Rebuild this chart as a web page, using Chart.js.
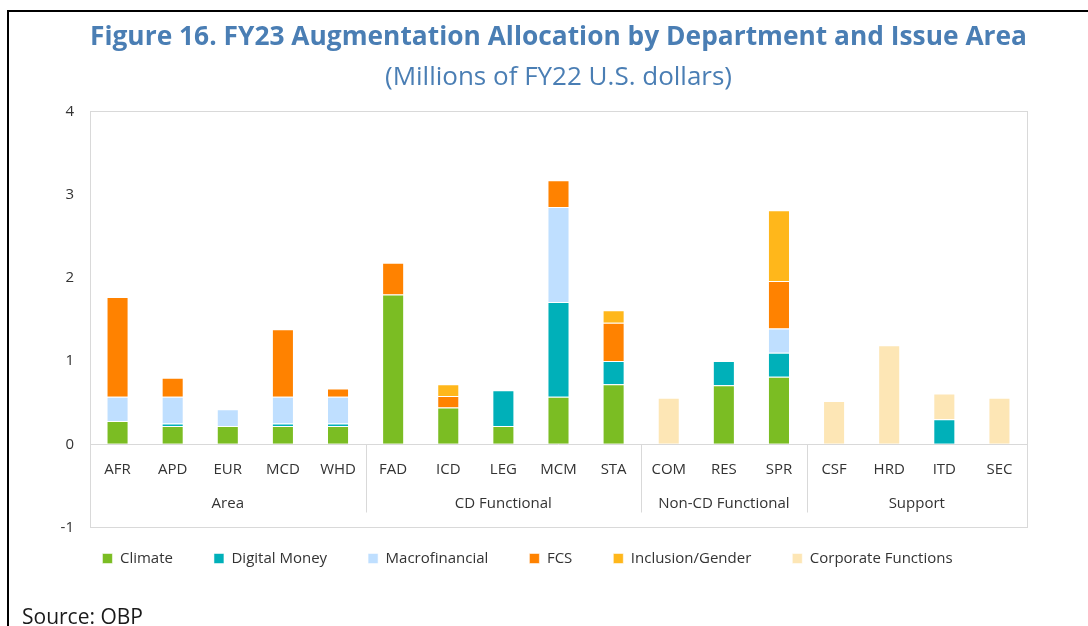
<!DOCTYPE html>
<html>
<head>
<meta charset="utf-8">
<script src="https://cdn.jsdelivr.net/npm/chart.js@4"></script>
<style>
  html, body { margin: 0; padding: 0; background: #fff; }
  #wrap { position: relative; width: 1088px; height: 626px; overflow: hidden; }
  #frame { position: absolute; left: 7px; top: 10px; width: 1100px; height: 700px; border: 2px solid #000; }
  #box { position: absolute; left: 0; top: 0; width: 1088px; height: 626px; }
  #source { position: absolute; left: 22px; top: 602px; font: 21px "Open Sans", sans-serif; color: #1a1a1a; }
</style>
</head>
<body>
<div id="wrap">
  <div id="frame"></div>
  <div id="box"><canvas id="grafico"></canvas></div>
  <div id="source">Source: OBP</div>
</div>
<script>
// departamentos y grupos
const categorias = ['AFR', 'APD', 'EUR', 'MCD', 'WHD', 'FAD', 'ICD', 'LEG', 'MCM', 'STA', 'COM', 'RES', 'SPR', 'CSF', 'HRD', 'ITD', 'SEC'];
const grupos = ['Area', 'CD Functional', 'Non-CD Functional', 'Support'];
const tamGrupos = [5, 5, 3, 4];

// valores (millones de USD FY22), null = sin barra
const climate       = [0.28, 0.22, 0.22, 0.22, 0.22, 1.80, 0.44, 0.22, 0.57, 0.72, null, 0.71, 0.81, null, null, null, null];
const digitalMoney  = [null, 0.03, null, 0.03, 0.03, null, null, 0.43, 1.14, 0.28, null, 0.29, 0.29, null, null, 0.30, null];
const macrofinancial= [0.29, 0.32, 0.20, 0.32, 0.32, null, null, null, 1.14, null, null, null, 0.29, null, null, null, null];
const fcs           = [1.20, 0.23, null, 0.81, 0.10, 0.38, 0.14, null, 0.32, 0.46, null, null, 0.57, null, null, null, null];
const inclusion     = [null, null, null, null, null, null, 0.14, null, null, 0.15, null, null, 0.85, null, null, null, null];
const corporate     = [null, null, null, null, null, null, null, null, null, null, 0.56, null, null, 0.52, 1.19, 0.31, 0.56];

const yTicks = [-1, 0, 1, 2, 3, 4];

// centros y limites de cada grupo (en indices de categoria)
const centrosGrupo = [];
const limitesGrupo = [];
let inicio = 0;
tamGrupos.forEach(function(n, i) {
  centrosGrupo.push(inicio + (n - 1) / 2);
  inicio += n;
  if (i < tamGrupos.length - 1) limitesGrupo.push(inicio - 0.5);
});

const fuente = '"Open Sans", sans-serif';
const gris = '#D9D9D9';
const texto = '#333333';

function serie(label, data, color) {
  return {
    label: label,
    data: data,
    backgroundColor: color,
    borderColor: 'rgba(255,255,255,0.55)',
    borderWidth: 1,
    barPercentage: 0.4,
    categoryPercentage: 1.0,
    stack: 'a'
  };
}

// caja del area del grafico, separadores y nombres de grupos
const marco = {
  id: 'marco',
  beforeDatasetsDraw(chart) {
    const {ctx, chartArea, scales} = chart;
    ctx.save();
    ctx.strokeStyle = gris;
    ctx.lineWidth = 1;
    ctx.strokeRect(Math.round(chartArea.left) + 0.5, Math.round(chartArea.top) + 0.5,
      Math.round(chartArea.right - chartArea.left), Math.round(chartArea.bottom - chartArea.top));
    const y0 = scales.y.getPixelForValue(0);
    const y1 = scales.y.getPixelForValue(-0.82);
    limitesGrupo.forEach(function(b) {
      const x = Math.round(scales.x.getPixelForValue(b)) + 0.5;
      ctx.beginPath();
      ctx.moveTo(x, y0);
      ctx.lineTo(x, y1);
      ctx.stroke();
    });
    ctx.fillStyle = texto;
    ctx.font = '15px ' + fuente;
    ctx.textAlign = 'center';
    ctx.textBaseline = 'middle';
    grupos.forEach(function(g, i) {
      ctx.fillText(g, scales.x.getPixelForValue(centrosGrupo[i]), y0 + 59);
    });
    ctx.restore();
  }
};

new Chart(document.getElementById('grafico'), {
  type: 'bar',
  data: {
    labels: categorias,
    datasets: [
      serie('Climate', climate, '#7BBD23'),
      serie('Digital Money', digitalMoney, '#00B0B9'),
      serie('Macrofinancial', macrofinancial, '#BFDFFF'),
      serie('FCS', fcs, '#FF8200'),
      serie('Inclusion/Gender', inclusion, '#FFB71B'),
      serie('Corporate Functions', corporate, '#FDE6B5')
    ]
  },
  options: {
    responsive: true,
    maintainAspectRatio: false,
    animation: false,
    layout: { padding: { left: 28, right: 61, top: 0, bottom: 50 } },
    plugins: {
      title: {
        display: true,
        fullSize: false,
        text: 'Figure 16. FY23 Augmentation Allocation by Department and Issue Area',
        color: '#4A7EB4',
        font: { family: fuente, size: 26.7, weight: 'bold' },
        padding: { top: 21, bottom: 4 }
      },
      subtitle: {
        display: true,
        fullSize: false,
        text: '(Millions of FY22 U.S. dollars)',
        color: '#4A7EB4',
        font: { family: fuente, size: 26, weight: 'normal' },
        padding: { top: 5, bottom: 18 }
      },
      legend: {
        position: 'bottom',
        title: { display: true, text: '', font: { size: 1 }, padding: -9.35 },
        labels: {
          boxWidth: 10,
          boxHeight: 10,
          padding: 41,
          color: texto,
          font: { family: fuente, size: 15 }
        }
      },
      tooltip: { enabled: false }
    },
    scales: {
      x: {
        type: 'category',
        stacked: true,
        position: { y: 0 },
        offset: true,
        grid: { display: false },
        border: { display: false },
        ticks: { color: texto, font: { family: fuente, size: 15 }, padding: 8, maxRotation: 0, autoSkip: false }
      },
      y: {
        stacked: true,
        min: -1,
        max: 4,
        afterBuildTicks: function(scale) {
          scale.ticks = yTicks.map(function(v) { return { value: v }; });
        },
        afterFit: function(scale) { scale.width = 62; },
        border: { display: false },
        grid: {
          drawTicks: false,
          color: function(c) { return c.tick && c.tick.value === 0 ? gris : 'rgba(0,0,0,0)'; }
        },
        ticks: { color: texto, font: { family: fuente, size: 15 }, padding: 16 }
      }
    }
  },
  plugins: [marco]
});
</script>
</body>
</html>
